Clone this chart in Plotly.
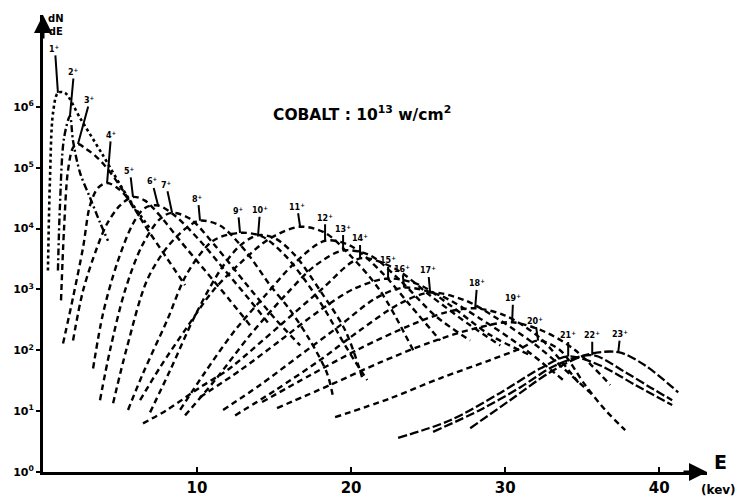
import numpy as np
import plotly.graph_objects as go

# ---- data: ion energy spectra, cobalt, 10^13 W/cm^2 ----
# E in keV, values given as log10(dN/dE)
e_q1 = [0.32, 0.45, 0.65, 0.97, 1.43, 2.40, 3.83, 5.52, 6.95]
l_q1 = [3.31, 4.79, 5.90, 6.23, 6.23, 5.82, 5.23, 4.51, 4.00]

e_q2 = [0.97, 1.10, 1.36, 1.75, 1.95, 2.40, 3.05, 3.70, 4.22]
l_q2 = [3.31, 4.38, 5.48, 5.85, 5.44, 4.92, 4.51, 4.10, 3.80]

e_q3 = [1.17, 1.36, 1.62, 1.95, 2.27, 2.79, 3.38, 4.03, 5.00, 5.97]
l_q3 = [2.82, 3.97, 4.95, 5.33, 5.39, 5.31, 5.20, 5.03, 4.70, 4.30]

e_q4 = [1.30, 1.95, 2.60, 3.05, 3.57, 4.16, 4.87, 5.52, 6.62, 7.92, 9.22]
l_q4 = [2.11, 2.87, 3.69, 4.38, 4.67, 4.75, 4.66, 4.49, 4.05, 3.56, 3.07]

e_q5 = [1.95, 2.60, 3.51, 4.16, 5.00, 5.84, 6.62, 7.60, 8.90, 10.52, 12.14, 13.44]
l_q5 = [2.16, 2.98, 3.69, 4.08, 4.38, 4.52, 4.46, 4.21, 3.80, 3.31, 2.82, 2.41]

e_q6 = [3.25, 3.90, 4.81, 5.84, 6.62, 7.47, 8.57, 10.19, 11.82, 13.44, 14.74]
l_q6 = [1.70, 2.61, 3.43, 4.08, 4.34, 4.38, 4.21, 3.80, 3.31, 2.82, 2.41]

e_q7 = [3.70, 4.35, 5.32, 6.43, 7.60, 8.38, 9.55, 11.17, 13.12, 15.06, 16.69]
l_q7 = [1.18, 2.00, 2.98, 3.72, 4.16, 4.26, 4.16, 3.72, 3.11, 2.52, 2.08]

e_q8 = [4.55, 5.45, 6.75, 8.05, 9.35, 10.19, 11.49, 13.12, 14.74, 16.04, 17.34, 18.44, 18.83]
l_q8 = [1.13, 2.05, 3.15, 3.69, 4.02, 4.13, 4.05, 3.64, 3.07, 2.66, 2.16, 1.62, 1.23]

e_q9 = [5.52, 6.49, 8.05, 9.35, 11.04, 12.79, 14.22, 15.71, 17.01, 18.31, 19.61, 21.04]
l_q9 = [1.02, 1.62, 2.49, 3.26, 3.80, 3.93, 3.87, 3.56, 3.15, 2.66, 2.08, 1.51]

e_q10 = [6.95, 8.25, 9.87, 11.49, 12.79, 13.96, 15.06, 16.36, 17.99, 19.61, 20.71]
l_q10 = [0.98, 1.67, 2.57, 3.31, 3.72, 3.89, 3.84, 3.56, 2.98, 2.33, 1.56]

e_q11 = [6.30, 7.60, 9.35, 11.04, 12.79, 14.74, 16.69, 18.31, 19.94, 21.88, 24.03]
l_q11 = [1.18, 1.72, 2.38, 2.98, 3.43, 3.84, 4.03, 3.93, 3.56, 2.98, 2.00]

e_q12 = [8.90, 10.52, 12.47, 14.42, 16.36, 18.31, 19.94, 21.88, 23.83, 25.78]
l_q12 = [1.02, 1.64, 2.33, 2.90, 3.44, 3.80, 3.72, 3.31, 2.74, 2.16]

e_q13 = [9.22, 11.17, 13.44, 15.71, 17.66, 19.48, 21.23, 23.18, 25.45, 27.73]
l_q13 = [0.93, 1.51, 2.25, 2.90, 3.39, 3.64, 3.56, 3.15, 2.57, 2.16]

e_q14 = [6.49, 8.05, 10.19, 11.95, 12.79, 15.39, 17.99, 20.58, 22.86, 25.13, 27.73, 29.68]
l_q14 = [0.80, 1.02, 1.39, 1.67, 1.84, 2.41, 2.98, 3.51, 3.34, 2.90, 2.41, 2.08]

e_q15 = [10.19, 12.79, 15.39, 17.99, 20.26, 22.40, 24.48, 26.43, 29.03, 31.62]
l_q15 = [1.23, 1.67, 2.16, 2.66, 3.02, 3.18, 3.07, 2.74, 2.25, 1.92]

e_q16 = [11.69, 14.09, 16.69, 19.29, 21.56, 23.44, 25.78, 28.38, 30.97, 33.77]
l_q16 = [1.02, 1.43, 1.92, 2.41, 2.85, 3.03, 2.90, 2.52, 2.08, 1.51]

e_q17 = [12.47, 15.06, 17.99, 20.58, 23.18, 25.13, 27.40, 29.68, 32.27, 35.71]
l_q17 = [0.93, 1.34, 1.84, 2.33, 2.77, 2.95, 2.82, 2.49, 2.03, 1.26]

e_q18 = [14.22, 17.34, 20.58, 23.83, 26.10, 28.05, 30.00, 32.27, 34.87]
l_q18 = [1.15, 1.59, 2.03, 2.41, 2.62, 2.69, 2.57, 2.20, 1.43]

e_q19 = [15.19, 18.64, 21.88, 25.13, 28.05, 30.45, 32.60, 34.55, 36.82]
l_q19 = [1.05, 1.43, 1.80, 2.13, 2.36, 2.46, 2.30, 2.00, 1.43]

e_q20 = [18.96, 22.53, 25.78, 29.03, 31.00, 32.14, 33.57, 35.19, 36.49, 37.79]
l_q20 = [0.90, 1.21, 1.54, 1.84, 2.03, 2.16, 2.00, 1.43, 1.02, 0.69]

e_q21 = [23.05, 26.43, 29.68, 32.27, 34.09, 36.17, 38.44, 40.84]
l_q21 = [0.56, 0.85, 1.30, 1.70, 1.90, 1.75, 1.43, 1.10]

e_q22 = [25.32, 28.38, 30.97, 33.25, 35.65, 37.79, 39.42, 40.84]
l_q22 = [0.66, 1.02, 1.39, 1.75, 1.92, 1.64, 1.39, 1.18]

e_q23 = [27.73, 30.32, 32.92, 35.19, 37.34, 39.09, 41.23]
l_q23 = [0.72, 1.18, 1.64, 1.92, 1.97, 1.75, 1.31]

charge_states = list(range(1, 24))
x_tick_vals = [10, 20, 30, 40]
x_tick_text = ["10", "20", "30", "40"]
y_tick_exps = [0, 1, 2, 3, 4, 5, 6]

curves = [
    (e_q1, l_q1), (e_q2, l_q2), (e_q3, l_q3), (e_q4, l_q4), (e_q5, l_q5),
    (e_q6, l_q6), (e_q7, l_q7), (e_q8, l_q8), (e_q9, l_q9), (e_q10, l_q10),
    (e_q11, l_q11), (e_q12, l_q12), (e_q13, l_q13), (e_q14, l_q14),
    (e_q15, l_q15), (e_q16, l_q16), (e_q17, l_q17), (e_q18, l_q18),
    (e_q19, l_q19), (e_q20, l_q20), (e_q21, l_q21), (e_q22, l_q22),
    (e_q23, l_q23),
]

# ---- style ----
label_offsets = {
    1: (-3, -44), 2: (4, -44), 3: (12, -44), 4: (4, -48), 5: (-3, -26),
    6: (-6, -24), 7: (-6, -28), 8: (-2, -22), 9: (-2, -22), 10: (2, -25),
    11: (-3, -20), 12: (0, -23), 13: (0, -22), 14: (0, -20), 15: (0, -18),
    16: (-2, -19), 17: (-2, -22), 18: (2, -25), 19: (1, -24), 20: (-3, -20),
    21: (0, -21), 22: (0, -20), 23: (2, -18),
}

fig = go.Figure()
annotations = []
for q, (e, lg) in zip(charge_states, curves):
    if q == 1:
        dash, width = "dot", 2.6
    elif q == 2:
        dash, width = "7px,3px,2px,3px", 2.4
    elif q >= 21:
        dash, width = "9px,3px", 2.3
    else:
        dash, width = "6px,4px", 2.4
    fig.add_trace(go.Scatter(
        x=e, y=10 ** np.array(lg), mode="lines",
        line=dict(color="black", width=width, dash=dash, shape="spline", smoothing=0.9),
        showlegend=False, hoverinfo="skip",
    ))
    i = int(np.argmax(lg))
    ax, ay = label_offsets[q]
    annotations.append(dict(
        x=e[i], y=lg[i], xref="x", yref="y",
        text=f"<b>{q}<sup>+</sup></b>", showarrow=True, arrowhead=0,
        arrowwidth=2, arrowcolor="black", ax=ax, ay=ay, standoff=0,
        font=dict(family="DejaVu Sans", size=8, color="black"),
    ))

# title text and axis captions
annotations += [
    dict(x=0.48, y=0.785, xref="paper", yref="paper", showarrow=False,
         text="<b>COBALT : 10<sup>13</sup> w/cm<sup>2</sup></b>",
         xanchor="center", yanchor="middle",
         font=dict(family="DejaVu Sans", size=15.5, color="black")),
    dict(x=0.02, y=0.978, xref="paper", yref="paper", showarrow=False,
         text="<b>dN<br>dE</b>", xanchor="center", yanchor="middle",
         font=dict(family="DejaVu Sans", size=10, color="black")),
    dict(x=1.02, y=0.022, xref="paper", yref="paper", showarrow=False,
         text="<b>E</b>", xanchor="center", yanchor="middle",
         font=dict(family="DejaVu Sans", size=19, color="black")),
    dict(x=1.018, y=-0.04, xref="paper", yref="paper", showarrow=False,
         text="<b>(kev)</b>", xanchor="center", yanchor="middle",
         font=dict(family="DejaVu Sans", size=12, color="black")),
    # axis arrowheads
    dict(x=0, y=1.0, xref="paper", yref="paper", ax=0, ay=25, showarrow=True,
         arrowhead=2, arrowsize=1.2, arrowwidth=3, arrowcolor="black", text=""),
    dict(x=1.0, y=0, xref="paper", yref="paper", ax=-25, ay=0, showarrow=True,
         arrowhead=2, arrowsize=1.2, arrowwidth=3, arrowcolor="black", text=""),
]

fig.update_layout(
    width=735, height=495,
    margin=dict(l=35, r=36, t=6.5, b=31, autoexpand=False),
    paper_bgcolor="white", plot_bgcolor="white",
    annotations=annotations,
    xaxis=dict(
        range=[0, 43.1], showgrid=False, zeroline=False, automargin=False,
        showline=True, linecolor="black", linewidth=3,
        tickvals=x_tick_vals, ticktext=x_tick_text,
        ticks="inside", ticklen=5, tickwidth=2, tickcolor="black",
        tickfont=dict(family="DejaVu Sans", size=15, color="black", weight="bold"),
    ),
    yaxis=dict(
        type="log", range=[0, 7.51], showgrid=False, zeroline=False, automargin=False,
        showline=True, linecolor="black", linewidth=3,
        tickvals=[10 ** k for k in y_tick_exps],
        ticktext=[f"10<sup>{k}</sup>" for k in y_tick_exps],
        ticks="outside", ticklen=4, tickwidth=2, tickcolor="black",
        tickfont=dict(family="DejaVu Sans", size=11, color="black", weight="bold"),
    ),
)

fig.write_html("out.html")
